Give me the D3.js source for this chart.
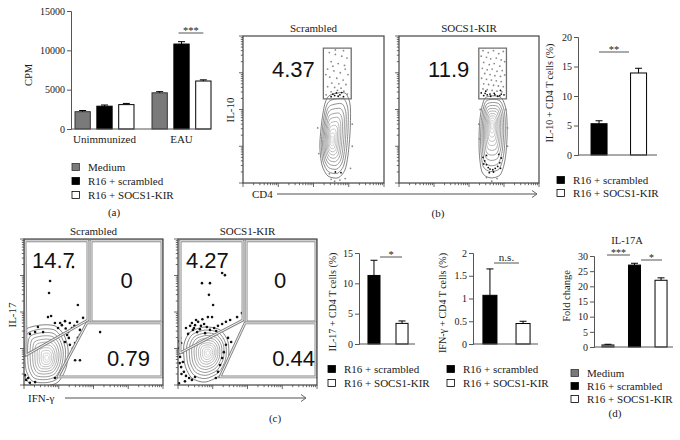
<!DOCTYPE html>
<html><head><meta charset="utf-8">
<script src="https://cdn.jsdelivr.net/npm/d3@7"></script>
<style>
body{margin:0;background:#fff}
svg{display:block}
text{font-family:"Liberation Serif","Times New Roman",serif;fill:#1a1a1a}
text.num{font-family:"Liberation Sans",Arial,sans-serif;fill:#111}
</style>
</head><body>
<svg id="chart" width="680" height="440"></svg>
<script>
// ---------------- DATA ----------------
const seriesNames = ["Medium", "R16 + scrambled", "R16 + SOCS1-KIR"];
const seriesFill = ["#7a7a7a", "#000000", "#ffffff"];

// (a) proliferation
const aGroups = ["Unimmunized", "EAU"];
const aValues = [[2200, 2900, 3100], [4600, 10800, 6100]];
const aErrors = [[150, 150, 150], [150, 300, 150]];
const aTicks = [0, 5000, 10000, 15000];

// (b) IL-10+ CD4 T cells
const bValues = [5.3, 13.9];
const bErrors = [0.5, 0.8];
const bTicks = [0, 5, 10, 15, 20];
const bGateLabels = ["4.37", "11.9"];
const flowTitles = ["Scrambled", "SOCS1-KIR"];

// (c) IL-17+ and IFN-g+ CD4 T cells
const cIL17Values = [11.3, 3.4];
const cIL17Errors = [2.5, 0.4];
const cIL17Ticks = [0, 5, 10, 15];
const cIFNValues = [1.07, 0.45];
const cIFNErrors = [0.58, 0.05];
const cIFNTicks = [0, 0.5, 1, 1.5, 2];
const cQuadLabels = [["14.7", "0", "0.79"], ["4.27", "0", "0.44"]];

// (d) IL-17A fold change
const dValues = [0.7, 27, 22];
const dErrors = [0.2, 0.6, 0.8];
const dTicks = [0, 5, 10, 15, 20, 25, 30];

// flow cytometry (log10 decades above axis minimum)
const b1Contour = [[2.47,2.39],[2.89,2.45],[3.04,2.12],[3.04,1.44],[2.98,0.76],[2.89,0.35],[2.70,0.14],[2.41,0.19],[2.24,0.49],[2.18,1.03],[2.24,1.71],[2.33,2.18]];
const b1Center = [2.52, 1.17];
const b2Contour = [[2.46,2.31],[2.89,2.34],[3.06,1.99],[3.09,1.31],[3.03,0.63],[2.89,0.22],[2.60,0.14],[2.37,0.30],[2.29,0.90],[2.31,1.71]];
const b2Center = [2.66, 1.58];
const b1DotsLight = [[2.45,3.55],[2.62,3.5],[2.8,3.45],[2.95,3.4],[2.5,3.3],[2.7,3.25],[2.88,3.2],[2.4,3.1],[2.58,3.05],[2.76,3.0],[2.98,2.95],[2.46,2.88],[2.66,2.85],[2.84,2.8],[2.52,2.72],[2.72,2.7],[2.92,2.68],[2.4,2.62],[2.6,2.6],[2.78,2.58],[2.68,2.52],[2.86,2.5],[2.5,2.48],[2.96,2.42],[2.36,2.4],[2.62,3.62],[2.85,3.6],[2.55,3.18],[2.9,3.1],[2.35,2.95],[2.5,0.1],[2.6,0.05],[2.75,0.08],[2.9,0.12],[2.45,0.25],[3.05,0.4],[3.1,1.0],[3.1,1.6],[2.15,0.8],[2.12,1.5]];
const b1DotsDark = [[2.55,2.42],[2.65,2.45],[2.75,2.4],[2.8,2.46],[2.7,2.36],[2.6,2.38],[2.85,2.35],[2.5,2.35],[2.62,0.3],[2.78,0.28]];
const b2DotsLight = [[2.4,3.6],[2.55,3.55],[2.7,3.6],[2.85,3.52],[2.98,3.58],[2.35,3.45],[2.5,3.42],[2.62,3.38],[2.78,3.4],[2.92,3.35],[3.02,3.3],[2.42,3.28],[2.58,3.22],[2.72,3.25],[2.88,3.18],[2.38,3.12],[2.52,3.08],[2.66,3.1],[2.8,3.04],[2.95,3.06],[2.45,2.98],[2.6,2.95],[2.74,2.92],[2.9,2.9],[3.02,2.94],[2.36,2.85],[2.5,2.82],[2.64,2.8],[2.78,2.78],[2.92,2.76],[2.42,2.7],[2.56,2.68],[2.7,2.66],[2.84,2.64],[2.98,2.62],[2.4,2.56],[2.52,2.54],[2.66,2.52],[2.8,2.5],[2.94,2.48],[2.3,1.2],[2.28,1.6],[3.1,1.5],[3.1,1.0],[3.05,2.0],[2.32,2.0],[2.5,0.15],[2.8,0.12],[2.65,0.05]];
const b2DotsDark = [[2.35,2.45],[2.42,2.38],[2.52,2.4],[2.62,2.36],[2.72,2.44],[2.82,2.36],[2.92,2.42],[3.0,2.4],[2.48,2.5],[2.9,2.52],[2.46,2.44],[2.6,2.42],[2.74,2.4],[2.88,2.38],[2.4,0.7],[2.45,0.6],[2.5,0.5],[2.55,0.42],[2.6,0.38],[2.68,0.36],[2.75,0.4],[2.82,0.45],[2.88,0.55],[2.92,0.68],[2.5,0.75],[2.85,0.78],[2.42,0.52],[2.9,0.4],[2.7,0.3],[2.58,0.28]];
const bGate = [[2.28, 2.29], [3.07, 3.67]];

const c1Contour = [[0.03,1.51],[0.46,1.64],[0.89,1.62],[1.15,1.37],[1.27,0.96],[1.21,0.47],[0.98,0.08],[0.60,-0.03],[0.17,0.03],[-0.03,0.41],[-0.06,1.10]];
const c1Center = [0.66, 0.74];
const c2Contour = [[0.35,1.45],[0.78,1.59],[1.21,1.51],[1.44,1.18],[1.44,0.68],[1.21,0.27],[0.78,0.08],[0.40,0.19],[0.20,0.55],[0.17,1.10]];
const c2Center = [0.86, 0.88];
const c1Dots = [[1.41,3.23],[0.75,2.85],[0.72,2.52],[1.55,2.19],[0.69,1.86],[0.78,1.89],[0.40,1.59],[0.32,1.45],[0.17,1.40],[0.55,1.45],[0.89,1.70],[1.04,1.70],[1.18,1.75],[1.32,1.70],[1.53,1.73],[1.70,1.84],[1.27,1.45],[1.24,1.37],[1.18,1.18],[1.29,1.29],[1.32,1.10],[1.47,1.15],[1.55,1.29],[1.61,1.37],[1.41,1.01],[1.47,0.68],[1.61,0.68],[2.19,1.45],[0.03,0.27],[0.12,0.19],[0.89,0.19],[0.06,0.14],[0.17,0.06],[0.32,0.08],[1.09,1.64],[1.38,1.56],[1.61,1.51],[0.98,1.56],[1.45,1.62],[1.2,1.55]];
const c2Dots = [[1.27,3.07],[1.35,3.01],[0.69,2.79],[0.92,2.79],[0.89,2.47],[1.01,2.19],[0.86,1.86],[0.98,1.86],[1.70,1.86],[1.84,1.97],[0.40,1.70],[0.49,1.64],[0.58,1.73],[0.66,1.62],[0.75,1.67],[0.83,1.59],[0.43,1.51],[0.55,1.45],[0.63,1.53],[0.78,1.42],[0.92,1.51],[1.04,1.56],[1.15,1.62],[1.27,1.67],[1.38,1.73],[1.50,1.78],[0.23,1.56],[0.29,1.40],[0.06,1.29],[0.09,1.15],[0.03,1.01],[0.12,0.90],[0.06,0.77],[0.14,0.63],[0.09,0.49],[0.17,0.36],[0.23,0.25],[0.32,0.19],[0.40,0.14],[0.49,0.22],[1.44,1.29],[1.53,1.18],[1.38,1.10],[1.32,0.90],[1.27,0.74],[1.21,0.55],[1.15,0.36],[1.09,0.19],[0.03,1.2],[0.05,0.6],[0.1,0.3],[0.35,1.62],[0.52,1.78],[0.7,1.8],[0.46,1.56],[1.1,1.48],[0.2,0.1],[0.03,0.05]];
const c1Gates = [
  [[0.03,3.95],[1.84,3.95],[1.84,1.78],[0.06,0.82]],
  [[1.93,3.95],[3.97,3.95],[3.97,1.73],[1.93,1.73]],
  [[1.81,1.70],[3.97,1.70],[3.97,0.22],[0.98,0.22]]
];
const c2Gates = [
  [[0.06,3.95],[1.87,3.95],[1.87,1.78],[0.06,0.88]],
  [[1.96,3.95],[3.97,3.95],[3.97,1.73],[1.96,1.73]],
  [[1.93,1.70],[3.97,1.70],[3.97,0.22],[1.21,0.22]]
];
const contourLevels = [1, 0.88, 0.77, 0.67, 0.57, 0.48, 0.39, 0.31, 0.23, 0.15, 0.08];

// ---------------- DRAWING ----------------
const SERIF_FAMILY = "'Liberation Serif', 'Times New Roman', serif";
const svg = d3.select("#chart");
const SERIF = 10;

function yAxisDraw(g, y, ticks, x0, fmt) {
  const ax = d3.axisLeft(y).tickValues(ticks).tickSize(4).tickFormat(fmt || d3.format("d"));
  const a = g.append("g").attr("transform", `translate(${x0},0)`).call(ax).attr("font-family", SERIF_FAMILY);
  a.select(".domain").attr("stroke", "#555");
  a.selectAll(".tick line").attr("stroke", "#555");
  a.selectAll(".tick text").attr("font-size", SERIF).attr("fill", "#1a1a1a").attr("x", -6);
}
function errBar(g, cx, yTop, yErr, half) {
  g.append("line").attr("x1", cx).attr("x2", cx).attr("y1", yTop).attr("y2", yErr).attr("stroke", "#000").attr("stroke-width", 1);
  g.append("line").attr("x1", cx - half).attr("x2", cx + half).attr("y1", yErr).attr("y2", yErr).attr("stroke", "#000").attr("stroke-width", 1);
}
function bar(g, x, w, y0, y1, fill) {
  g.append("rect").attr("x", x).attr("y", y1).attr("width", w).attr("height", y0 - y1)
    .attr("fill", fill).attr("stroke", fill === "#7a7a7a" ? "#333" : "#000").attr("stroke-width", 1);
}
function sig(g, x1, x2, y, label, fs) {
  g.append("line").attr("x1", x1).attr("x2", x2).attr("y1", y).attr("y2", y).attr("stroke", "#555").attr("stroke-width", 1);
  g.append("text").attr("x", (x1 + x2) / 2).attr("y", label === "n.s." ? y - 2 : y + 1).attr("text-anchor", "middle").attr("font-size", fs || 10.5).text(label);
}
function legend(g, x, ys, idx) {
  idx.forEach((si, i) => {
    g.append("rect").attr("x", x).attr("y", ys[i] - 3.5).attr("width", 7.5).attr("height", 7).attr("fill", seriesFill[si]).attr("stroke", si === 0 ? "#333" : "#000").attr("stroke-width", 0.8);
    g.append("text").attr("x", x + 16).attr("y", ys[i]).attr("dy", "0.35em").attr("font-size", 11).text(seriesNames[si]);
  });
}
function yLabel(g, cx, cy, t, fs) {
  g.append("text").attr("transform", `translate(${cx},${cy}) rotate(-90)`).attr("text-anchor", "middle").attr("dy", "0.35em").attr("font-size", fs || 10.5).text(t);
}
function panelLabel(g, cx, cy, t) {
  g.append("text").attr("x", cx).attr("y", cy).attr("dy", "0.35em").attr("text-anchor", "middle").attr("font-size", 11).text(t);
}

function simpleBars(o) {
  const g = svg.append("g");
  const y = d3.scaleLinear().domain([0, o.ticks[o.ticks.length - 1]]).range([o.yBottom, o.yTop]);
  const x = d3.scaleBand().domain(o.idx).range(o.xRange).paddingInner(o.pi).paddingOuter(o.po);
  o.idx.forEach((si, i) => {
    bar(g, x(si), x.bandwidth(), y(0), y(o.values[i]), seriesFill[si]);
    errBar(g, x(si) + x.bandwidth() / 2, y(o.values[i]), y(o.values[i] + o.errors[i]), 3.5);
  });
  g.append("line").attr("x1", o.xRange[0]).attr("x2", o.axisEnd).attr("y1", y(0)).attr("y2", y(0)).attr("stroke", "#555");
  yAxisDraw(g, y, o.ticks, o.xRange[0], o.fmt);
  return {g, x, y};
}

// ---- (a) ----
{
  const g = svg.append("g");
  const y = d3.scaleLinear().domain([0, 15000]).range([129, 11]);
  const x0 = d3.scaleBand().domain(aGroups).range([75, 211]).paddingInner(0.234).paddingOuter(0);
  const x1 = d3.scaleBand().domain([0, 1, 2]).range([0, x0.bandwidth()]).paddingInner(0.3).paddingOuter(0);
  aGroups.forEach((grp, gi) => {
    aValues[gi].forEach((v, si) => {
      const bx = x0(grp) + x1(si);
      bar(g, bx, x1.bandwidth(), y(0), y(v), seriesFill[si]);
      errBar(g, bx + x1.bandwidth() / 2, y(v), y(v + aErrors[gi][si]), 3.5);
    });
    g.append("text").attr("x", x0(grp) + x0.bandwidth() / 2).attr("y", 139).attr("dy", "0.35em").attr("text-anchor", "middle").attr("font-size", 11).text(grp);
  });
  g.append("line").attr("x1", 71).attr("x2", 211).attr("y1", y(0)).attr("y2", y(0)).attr("stroke", "#555");
  yAxisDraw(g, y, aTicks, 71);
  yLabel(g, 28, 75, "CPM");
  const xs = x0("EAU");
  sig(g, xs + x1(1) + x1.bandwidth() / 2 - 3, xs + x1(2) + x1.bandwidth() / 2, 33, "***");
  legend(g, 72, [167, 181, 195], [0, 1, 2]);
  panelLabel(g, 114, 212, "(a)");
}

// ---- (b) bars ----
{
  const r = simpleBars({idx: [1, 2], values: bValues, errors: bErrors, ticks: bTicks, yTop: 37, yBottom: 155, xRange: [578, 659.6], axisEnd: 657, pi: 0.595, po: 0.33});
  sig(r.g, 599, 629, 52, "**");
  yLabel(r.g, 549, 93, "IL-10 + CD4 T cells (%)", 10);
  legend(r.g, 557, [180, 193], [1, 2]);
}
// ---- (c) bars ----
{
  const r = simpleBars({idx: [1, 2], values: cIL17Values, errors: cIL17Errors, ticks: cIL17Ticks, yTop: 253, yBottom: 344, xRange: [359, 417], axisEnd: 415, pi: 0.571, po: 0.32});
  sig(r.g, 380, 402, 257, "*");
  yLabel(r.g, 332, 302, "IL-17 + CD4 T cells (%)", 10);
  legend(r.g, 328, [369, 383], [1, 2]);
}
{
  const r = simpleBars({idx: [1, 2], values: cIFNValues, errors: cIFNErrors, ticks: cIFNTicks, yTop: 253, yBottom: 344, xRange: [473, 540], axisEnd: 538, pi: 0.576, po: 0.30, fmt: d => String(d)});
  sig(r.g, 494, 519, 263, "n.s.", 11);
  yLabel(r.g, 442, 303, "IFN-\u03b3 + CD4 T cells (%)", 10);
  legend(r.g, 447, [369, 383], [1, 2]);
}
// ---- (d) ----
{
  const r = simpleBars({idx: [0, 1, 2], values: dValues, errors: dErrors, ticks: dTicks, yTop: 256, yBottom: 347, xRange: [594, 675], axisEnd: 673, pi: 0.547, po: 0.30});
  sig(r.g, 607, 630, 255, "***", 10);
  sig(r.g, 641, 662, 260, "*", 10);
  r.g.append("text").attr("x", 627).attr("y", 240).attr("dy", "0.35em").attr("text-anchor", "middle").attr("font-size", 10.5).text("IL-17A");
  yLabel(r.g, 566, 296, "Fold change", 10.5);
  legend(r.g, 571, [373, 386, 399], [0, 1, 2]);
  panelLabel(r.g, 615, 413, "(d)");
}

// ---- flow plots ----
let clipId = 0;
function flowPlot(o) {
  const g = svg.append("g");
  const x = d3.scaleLinear().domain([0, 4]).range([o.x0, o.x1]);
  const y = d3.scaleLinear().domain([0, 4]).range([o.y1, o.y0]);
  const id = "clip" + (clipId++);
  g.append("clipPath").attr("id", id).append("rect").attr("x", o.x0).attr("y", o.y0).attr("width", o.x1 - o.x0).attr("height", o.y1 - o.y0);
  const inner = g.append("g").attr("clip-path", `url(#${id})`);
  const n = contourLevels.length;
  const line = d3.line().curve(d3.curveCardinalClosed.tension(0.2));
  contourLevels.forEach((f, i) => {
    const pts = o.contour.map(p => [x(o.center[0] + (p[0] - o.center[0]) * f), y(o.center[1] + (p[1] - o.center[1]) * f)]);
    inner.append("path").attr("d", line(pts)).attr("fill", "none")
      .attr("stroke", d3.interpolateRgb("#4a4a4a", "#c8c8c8")(i / (n - 1))).attr("stroke-width", 0.7);
  });
  (o.dotsLight || []).forEach(p => inner.append("circle").attr("cx", x(p[0])).attr("cy", y(p[1])).attr("r", 0.9).attr("fill", "#8a8a8a"));
  (o.dotsDark || []).forEach(p => inner.append("circle").attr("cx", x(p[0])).attr("cy", y(p[1])).attr("r", o.darkR || 1.1).attr("fill", "#111"));
  (o.gates || []).forEach(poly => {
    const d = d3.line()(poly.map(p => [x(p[0]), y(p[1])])) + "Z";
    if (o.doubleGate) {
      inner.append("path").attr("d", d).attr("fill", "none").attr("stroke", "#858585").attr("stroke-width", 2.8);
      inner.append("path").attr("d", d).attr("fill", "none").attr("stroke", "#ffffff").attr("stroke-width", 0.9);
    } else {
      inner.append("path").attr("d", d).attr("fill", "none").attr("stroke", "#707070").attr("stroke-width", 1.3);
    }
  });
  g.append("rect").attr("x", o.x0).attr("y", o.y0).attr("width", o.x1 - o.x0).attr("height", o.y1 - o.y0).attr("fill", "none").attr("stroke", "#444").attr("stroke-width", 1.2);
  const tv = [];
  for (let d = 0; d < 4; d++) for (let k = 1; k <= 9; k++) tv.push({v: d + Math.log10(k), major: k === 1});
  tv.push({v: 4, major: true});
  tv.forEach(t => {
    const L = t.major ? 4 : 2.2;
    g.append("line").attr("x1", o.x0).attr("x2", o.x0 - L).attr("y1", y(t.v)).attr("y2", y(t.v)).attr("stroke", "#444").attr("stroke-width", 0.8);
    g.append("line").attr("y1", o.y1).attr("y2", o.y1 + L).attr("x1", x(t.v)).attr("x2", x(t.v)).attr("stroke", "#444").attr("stroke-width", 0.8);
  });
  g.append("text").attr("x", (o.x0 + o.x1) / 2).attr("y", o.y0 - 4).attr("text-anchor", "middle").attr("font-size", 11).text(o.title);
  (o.labels || []).forEach(l => {
    g.append("text").attr("class", "num").attr("x", x(l.x)).attr("y", y(l.y)).attr("text-anchor", l.anchor || "start").attr("font-size", 22).text(l.t);
  });
  return {g, x, y};
}

function gateRect(gt) { return [[gt[0][0], gt[0][1]], [gt[1][0], gt[0][1]], [gt[1][0], gt[1][1]], [gt[0][0], gt[1][1]]]; }

flowPlot({x0: 243, x1: 384, y0: 36, y1: 183, title: flowTitles[0], contour: b1Contour, center: b1Center, dotsLight: b1DotsLight, dotsDark: b1DotsDark, darkR: 0.9, gates: [gateRect(bGate)], labels: [{x: 0.82, y: 2.88, t: bGateLabels[0]}]});
flowPlot({x0: 399, x1: 539, y0: 36, y1: 183, title: flowTitles[1], contour: b2Contour, center: b2Center, dotsLight: b2DotsLight, dotsDark: b2DotsDark, darkR: 0.9, gates: [gateRect(bGate)], labels: [{x: 0.83, y: 2.88, t: bGateLabels[1]}]});
flowPlot({x0: 24, x1: 163, y0: 239, y1: 385, title: flowTitles[0], contour: c1Contour, center: c1Center, dotsDark: c1Dots, darkR: 1.3, gates: c1Gates, doubleGate: true,
  labels: [{x: 0.23, y: 3.2, t: cQuadLabels[0][0]}, {x: 2.95, y: 2.65, t: cQuadLabels[0][1], anchor: "middle"}, {x: 2.39, y: 0.52, t: cQuadLabels[0][2]}]});
flowPlot({x0: 178, x1: 317, y0: 239, y1: 385, title: flowTitles[1], contour: c2Contour, center: c2Center, dotsDark: c2Dots, darkR: 1.3, gates: c2Gates, doubleGate: true,
  labels: [{x: 0.23, y: 3.2, t: cQuadLabels[1][0]}, {x: 2.94, y: 2.65, t: cQuadLabels[1][1], anchor: "middle"}, {x: 2.71, y: 0.52, t: cQuadLabels[1][2]}]});

function arrow(x1, x2, yv) {
  svg.append("line").attr("x1", x1).attr("x2", x2).attr("y1", yv).attr("y2", yv).attr("stroke", "#8a8a8a").attr("stroke-width", 1.4);
  svg.append("path").attr("d", `M${x2 - 5},${yv - 3.5}L${x2},${yv}L${x2 - 5},${yv + 3.5}`).attr("fill", "none").attr("stroke", "#666").attr("stroke-width", 1);
}
yLabel(svg, 230, 110, "IL-10", 11);
svg.append("text").attr("x", 252).attr("y", 194).attr("dy", "0.35em").attr("font-size", 11).text("CD4");
arrow(277, 537, 194);
panelLabel(svg, 438, 213, "(b)");

yLabel(svg, 12, 315, "IL-17", 11);
svg.append("text").attr("x", 28).attr("y", 398).attr("dy", "0.35em").attr("font-size", 11).text("IFN-\u03b3");
arrow(65, 306, 398);
panelLabel(svg, 275, 418, "(c)");

// make sure serif family is applied on every non-numeric text
svg.selectAll("text:not(.num)").attr("font-family", SERIF_FAMILY);
</script>
</body></html>
